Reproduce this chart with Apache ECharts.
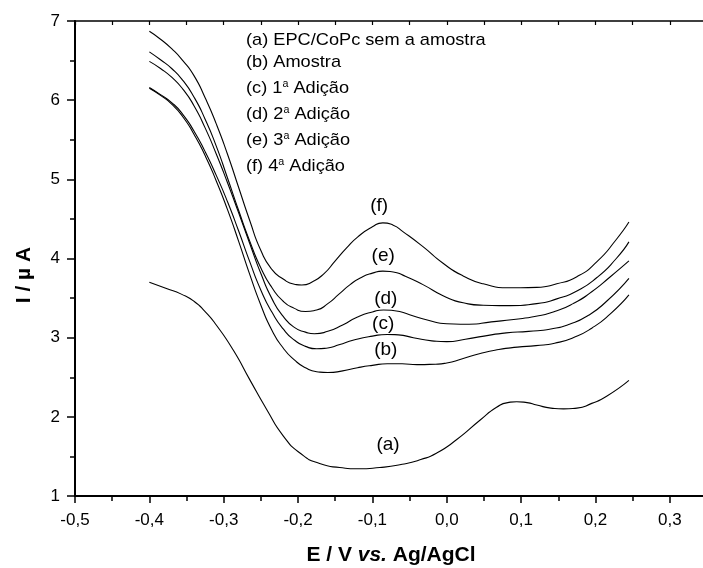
<!DOCTYPE html>
<html><head><meta charset="utf-8">
<script src="https://cdn.jsdelivr.net/npm/echarts/dist/echarts.min.js"></script>
<style>html,body{margin:0;padding:0;background:#fff}#c{width:703px;height:568px}</style>
</head><body><div id="c"></div>
<script>
// E (V) vs I (µA) pairs
const curveA = [[-0.400,3.70],[-0.377,3.62],[-0.357,3.55],[-0.340,3.46],[-0.325,3.33],[-0.310,3.16],[-0.287,2.84],[-0.265,2.47],[-0.242,2.09],[-0.220,1.76],[-0.197,1.54],[-0.171,1.41],[-0.144,1.36],[-0.120,1.345],[-0.090,1.36],[-0.060,1.40],[-0.035,1.46],[-0.014,1.54],[0.013,1.71],[0.045,1.96],[0.067,2.12],[0.082,2.18],[0.094,2.19],[0.108,2.18],[0.121,2.15],[0.140,2.11],[0.157,2.10],[0.175,2.11],[0.195,2.17],[0.215,2.26],[0.245,2.46]];
const curveB = [[-0.400,6.15],[-0.385,6.06],[-0.370,5.95],[-0.355,5.79],[-0.340,5.57],[-0.325,5.30],[-0.310,4.98],[-0.295,4.62],[-0.280,4.22],[-0.265,3.80],[-0.250,3.41],[-0.235,3.09],[-0.220,2.87],[-0.205,2.72],[-0.190,2.62],[-0.175,2.57],[-0.160,2.56],[-0.140,2.58],[-0.120,2.62],[-0.100,2.65],[-0.080,2.67],[-0.060,2.67],[-0.040,2.66],[-0.015,2.665],[0.000,2.68],[0.020,2.73],[0.045,2.80],[0.070,2.85],[0.095,2.88],[0.120,2.90],[0.145,2.93],[0.170,3.00],[0.195,3.12],[0.220,3.30],[0.245,3.54]];
const curveC = [[-0.400,6.16],[-0.385,6.07],[-0.370,5.97],[-0.355,5.82],[-0.340,5.61],[-0.325,5.35],[-0.310,5.05],[-0.295,4.72],[-0.280,4.35],[-0.265,3.96],[-0.250,3.60],[-0.235,3.32],[-0.220,3.11],[-0.205,2.97],[-0.190,2.89],[-0.175,2.86],[-0.160,2.87],[-0.145,2.91],[-0.125,2.97],[-0.100,3.02],[-0.080,3.04],[-0.065,3.035],[-0.045,3.00],[-0.020,2.96],[0.000,2.95],[0.025,2.98],[0.050,3.02],[0.080,3.06],[0.110,3.08],[0.140,3.11],[0.165,3.17],[0.190,3.28],[0.215,3.46],[0.245,3.75]];
const curveD = [[-0.400,6.49],[-0.385,6.40],[-0.370,6.29],[-0.355,6.14],[-0.340,5.93],[-0.325,5.65],[-0.310,5.32],[-0.295,4.96],[-0.280,4.58],[-0.265,4.19],[-0.250,3.81],[-0.235,3.49],[-0.220,3.27],[-0.205,3.13],[-0.190,3.07],[-0.178,3.05],[-0.160,3.08],[-0.140,3.16],[-0.120,3.26],[-0.100,3.325],[-0.085,3.35],[-0.070,3.34],[-0.050,3.29],[-0.025,3.22],[0.000,3.175],[0.030,3.17],[0.060,3.20],[0.090,3.23],[0.120,3.27],[0.145,3.33],[0.170,3.43],[0.195,3.58],[0.220,3.77],[0.245,3.97]];
const curveE = [[-0.400,6.61],[-0.385,6.51],[-0.370,6.40],[-0.355,6.25],[-0.340,6.04],[-0.325,5.76],[-0.310,5.42],[-0.295,5.02],[-0.280,4.61],[-0.265,4.22],[-0.250,3.88],[-0.235,3.63],[-0.220,3.46],[-0.205,3.37],[-0.190,3.33],[-0.175,3.35],[-0.160,3.43],[-0.145,3.55],[-0.130,3.67],[-0.115,3.76],[-0.100,3.815],[-0.086,3.84],[-0.072,3.83],[-0.059,3.79],[-0.032,3.67],[-0.005,3.53],[0.022,3.44],[0.049,3.41],[0.085,3.405],[0.121,3.43],[0.148,3.49],[0.175,3.59],[0.202,3.76],[0.228,4.00],[0.245,4.21]];
const curveF = [[-0.400,6.87],[-0.385,6.77],[-0.370,6.65],[-0.355,6.50],[-0.340,6.31],[-0.325,6.03],[-0.310,5.70],[-0.295,5.32],[-0.280,4.90],[-0.265,4.48],[-0.250,4.10],[-0.235,3.86],[-0.220,3.74],[-0.205,3.675],[-0.195,3.665],[-0.180,3.71],[-0.165,3.81],[-0.150,3.97],[-0.135,4.13],[-0.120,4.27],[-0.100,4.40],[-0.086,4.45],[-0.072,4.42],[-0.059,4.34],[-0.032,4.15],[-0.005,3.94],[0.022,3.78],[0.049,3.68],[0.085,3.63],[0.121,3.635],[0.148,3.68],[0.175,3.77],[0.202,3.96],[0.228,4.24],[0.245,4.46]];

const curves = [curveA, curveB, curveC, curveD, curveE, curveF];
const seriesNames = ['(a) EPC/CoPc sem a amostra', '(b) Amostra', '(c) 1ª Adição', '(d) 2ª Adição', '(e) 3ª Adição', '(f) 4ª Adição'];
const curveTags = ['(a)', '(b)', '(c)', '(d)', '(e)', '(f)'];
const tagAnchors = [[-0.079,1.644],[-0.082,2.844],[-0.0855,3.181],[-0.082,3.497],[-0.0855,4.031],[-0.091,4.663]];
// legend text lines (rich-text markup for the superscript "a")
const legendLines = ['(a) EPC/CoPc sem a amostra', '(b) Amostra', '(c) 1{s|a} Adição', '(d) 2{s|a} Adição', '(e) 3{s|a} Adição', '(f) 4{s|a} Adição'];
const legendY = [40, 62, 88, 114, 140, 166];

const FF = '"Liberation Sans", Arial, sans-serif';
const fmt = v => (Math.abs(v) < 1e-9 ? 0 : v).toFixed(1).replace('.', ',');

const chart = echarts.init(document.getElementById('c'), null, {renderer: 'canvas'});
const series = curves.map((d, i) => ({
  name: seriesNames[i], type: 'line', data: d, smooth: 0.6,
  symbol: 'none', showSymbol: false, silent: true, clip: false,
  lineStyle: {color: '#000', width: 1.1},
  markPoint: {
    symbol: 'circle', symbolSize: 0, silent: true,
    label: {show: true, position: 'inside', formatter: curveTags[i], color: '#000', fontSize: 19, fontFamily: FF},
    data: [{coord: tagAnchors[i]}]
  }
}));

const graphic = legendLines.map((t, i) => ({
  type: 'text', x: 246, y: legendY[i], scaleX: 1.07, silent: true,
  style: {text: t, fill: '#000', font: '17px ' + FF, verticalAlign: 'middle', align: 'left',
    rich: {s: {fontSize: 10, fontFamily: FF, fill: '#000', verticalAlign: 'top', lineHeight: 17}}}
}));
graphic.push({
  type: 'text', x: 391, y: 555, silent: true,
  style: {text: '{b|E / V }{i|vs.}{b| Ag/AgCl}', align: 'center', verticalAlign: 'middle', fill: '#000',
    font: 'bold 21px ' + FF,
    rich: {b: {fontSize: 21, fontWeight: 'bold', fontFamily: FF, fill: '#000'},
           i: {fontSize: 21, fontWeight: 'bold', fontStyle: 'italic', fontFamily: FF, fill: '#000'}}}
});
graphic.push({
  type: 'text', x: 24, y: 275, rotation: Math.PI / 2, silent: true,
  style: {text: 'I / µ A', align: 'center', verticalAlign: 'middle', fill: '#000', font: 'bold 21px ' + FF}
});

const axisCommon = {
  type: 'value', min: -0.5, max: 0.35, interval: 0.1,
  splitLine: {show: false}, minorSplitLine: {show: false}
};

chart.setOption({
  animation: false,
  backgroundColor: '#fff',
  grid: {left: 75, right: -4, top: 21, bottom: 72, containLabel: false, outerBoundsMode: 'none'},
  xAxis: [
    Object.assign({}, axisCommon, {
      position: 'bottom',
      axisLine: {show: true, onZero: false, lineStyle: {color: '#000', width: 2}},
      axisTick: {show: true, inside: false, length: 7, lineStyle: {color: '#000', width: 1.5}},
      minorTick: {show: true, splitNumber: 2, length: 5, lineStyle: {color: '#000', width: 1.5}},
      axisLabel: {show: true, margin: 16, fontSize: 17, color: '#000', fontFamily: FF, formatter: fmt, showMaxLabel: false, hideOverlap: false}
    }),
    Object.assign({}, axisCommon, {
      position: 'top',
      axisLine: {show: true, onZero: false, lineStyle: {color: '#000', width: 1.5}},
      axisTick: {show: true, inside: true, length: 4, lineStyle: {color: '#000', width: 1.2}},
      minorTick: {show: true, splitNumber: 2, length: 4, lineStyle: {color: '#000', width: 1.2}},
      axisLabel: {show: false}
    })
  ],
  yAxis: [{
    type: 'value', min: 1, max: 7, interval: 1, position: 'left',
    axisLine: {show: true, onZero: false, lineStyle: {color: '#000', width: 2}},
    axisTick: {show: true, inside: false, length: 8, lineStyle: {color: '#000', width: 1.5}},
    minorTick: {show: true, splitNumber: 2, length: 5, lineStyle: {color: '#000', width: 1.5}},
    axisLabel: {show: true, margin: 15, fontSize: 17, color: '#000', fontFamily: FF},
    splitLine: {show: false}, minorSplitLine: {show: false}
  }],
  series: series,
  graphic: graphic
});
</script>
</body></html>
